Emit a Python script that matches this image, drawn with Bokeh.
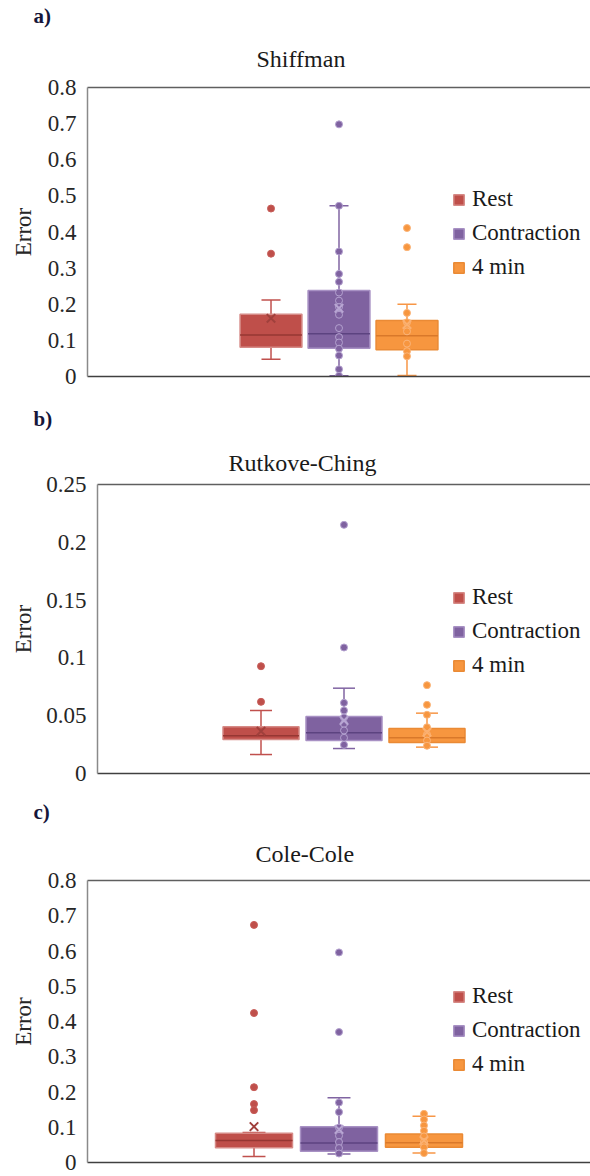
from bokeh.plotting import figure
from bokeh.models import (Range1d, LinearAxis, FixedTicker, Title, Legend, LegendItem,
                          CustomJSTickFormatter, ColumnDataSource)
from bokeh.embed import file_html
from bokeh.resources import INLINE

# ---------------- data ----------------
SERIES = ["Rest", "Contraction", "4 min"]
POSITIONS = [-1, 0, 1]

# a) Shiffman   (order: Rest, Contraction, 4 min)
shiffman_q1 = [0.081, 0.078, 0.074]
shiffman_median = [0.115, 0.118, 0.1125]
shiffman_q3 = [0.172, 0.238, 0.155]
shiffman_whisker_low = [0.048, 0.002, 0.003]
shiffman_whisker_high = [0.212, 0.4725, 0.200]
shiffman_mean = [0.161, 0.189, 0.144]
shiffman_rest_points = [0.465, 0.340]
shiffman_contraction_points = [0.698, 0.4725, 0.346, 0.284, 0.262, 0.2325, 0.210, 0.192,
                               0.171, 0.134, 0.109, 0.094, 0.077, 0.058, 0.020, 0.002]
shiffman_4min_points = [0.411, 0.358, 0.176, 0.150, 0.125, 0.091, 0.070, 0.056]
shiffman_ticks = [0, 0.1, 0.2, 0.3, 0.4, 0.5, 0.6, 0.7, 0.8]

# b) Rutkove-Ching
rutkove_q1 = [0.0294, 0.0285, 0.0268]
rutkove_median = [0.0326, 0.0352, 0.0309]
rutkove_q3 = [0.0404, 0.0493, 0.0389]
rutkove_whisker_low = [0.0164, 0.0216, 0.0228]
rutkove_whisker_high = [0.0545, 0.0738, 0.0522]
rutkove_mean = [0.0366, 0.0458, 0.0357]
rutkove_rest_points = [0.0928, 0.062]
rutkove_contraction_points = [0.2151, 0.109, 0.0611, 0.0545, 0.0484, 0.043, 0.0372, 0.0309, 0.0248]
rutkove_4min_points = [0.0764, 0.0594, 0.0508, 0.040, 0.0337, 0.0285, 0.024]
rutkove_ticks = [0, 0.05, 0.1, 0.15, 0.2, 0.25]

# c) Cole-Cole
cole_q1 = [0.042, 0.032, 0.043]
cole_median = [0.0624, 0.055, 0.0558]
cole_q3 = [0.0833, 0.1017, 0.0806]
cole_whisker_low = [0.0173, 0.024, 0.0267]
cole_whisker_high = [0.085, 0.184, 0.131]
cole_mean = [0.1017, 0.094, 0.0624]
cole_rest_points = [0.674, 0.424, 0.2136, 0.1658, 0.1485]
cole_contraction_points = [0.596, 0.370, 0.170, 0.143, 0.099, 0.076, 0.058, 0.041, 0.0256]
cole_4min_points = [0.138, 0.122, 0.105, 0.090, 0.074, 0.058, 0.043, 0.0267]
cole_ticks = [0, 0.1, 0.2, 0.3, 0.4, 0.5, 0.6, 0.7, 0.8]

# ---------------- styles ----------------
FILL = ["#bf4f4a", "#7f62a0", "#f7963f"]
BOX_LINE = ["#d68a86", "#a891c4", "#ea8a35"]
MEDIAN = ["#963733", "#5c4380", "#d9782a"]
WHISKER = ["#c0504d", "#8064a2", "#f79646"]
POINT_EDGE = ["#c75e5a", "#b3a1cf", "#fbb57a"]
MEAN_C = ["#a0403c", "#b8a6d3", "#fbb070"]
SERIF = "Liberation Serif"

panels = [
    dict(letter="a)", title="Shiffman",
         stats=(shiffman_q1, shiffman_median, shiffman_q3, shiffman_whisker_low,
                shiffman_whisker_high, shiffman_mean),
         points=(shiffman_rest_points, shiffman_contraction_points, shiffman_4min_points),
         ticks=shiffman_ticks,
         h=397, top=87, bottom=21, left=87, xr=(-3.699, 3.699), bw=0.91, cw=0.28,
         label_standoff=9,
         letter_off=-54, letter_standoff=0, title_off=169, title_standoff=32,
         legend_xy=(365, 96)),
    dict(letter="b)", title="Rutkove-Ching",
         stats=(rutkove_q1, rutkove_median, rutkove_q3, rutkove_whisker_low,
                rutkove_whisker_high, rutkove_mean),
         points=(rutkove_rest_points, rutkove_contraction_points, rutkove_4min_points),
         ticks=rutkove_ticks,
         h=397, top=87, bottom=21, left=97, xr=(-2.970, 2.970), bw=0.916, cw=0.265,
         label_standoff=7,
         letter_off=-64, letter_standoff=15, title_off=131, title_standoff=18,
         legend_xy=(355, 95)),
    dict(letter="c)", title="Cole-Cole",
         stats=(cole_q1, cole_median, cole_q3, cole_whisker_low, cole_whisker_high, cole_mean),
         points=(cole_rest_points, cole_contraction_points, cole_4min_points),
         ticks=cole_ticks,
         h=382, top=86, bottom=14, left=87, xr=(-2.959, 2.959), bw=0.906, cw=0.27,
         label_standoff=9,
         letter_off=-54, letter_standoff=4, title_off=168, title_standoff=27,
         legend_xy=(365, 85)),
]


def no_tick_axis(ax, color, width):
    ax.ticker = FixedTicker(ticks=[])
    ax.major_tick_line_color = None
    ax.minor_tick_line_color = None
    ax.major_tick_out = 0
    ax.minor_tick_out = 0
    ax.major_label_standoff = 0
    ax.major_label_text_font_size = "0px"
    ax.axis_line_color = color
    ax.axis_line_width = width


def build(cfg):
    q1, med, q3, wlo, whi, mean = cfg["stats"]
    ticks = cfg["ticks"]
    bw, cw = cfg["bw"], cfg["cw"]
    p = figure(width=590, height=cfg["h"], x_range=Range1d(*cfg["xr"]),
               y_range=Range1d(ticks[0], ticks[-1]), output_backend="svg",
               toolbar_location=None, title_location=None,
               min_border_left=cfg["left"], min_border_right=0,
               min_border_top=cfg["top"], min_border_bottom=cfg["bottom"])
    p.grid.visible = False
    p.outline_line_color = None
    p.background_fill_color = "white"
    p.border_fill_color = "white"

    no_tick_axis(p.xaxis[0], "#404040", 1.5)
    top_axis = LinearAxis()
    no_tick_axis(top_axis, "#5f5f5f", 1.5)
    p.add_layout(top_axis, "above")

    p.add_layout(Title(text=cfg["title"], align="left", offset=cfg["title_off"],
                       standoff=cfg["title_standoff"], text_font=SERIF,
                       text_font_size="24px", text_font_style="normal",
                       text_color="#1a1a1a"), "above")
    p.add_layout(Title(text=cfg["letter"], align="left", offset=cfg["letter_off"],
                       standoff=cfg["letter_standoff"], text_font=SERIF,
                       text_font_size="21px", text_font_style="bold",
                       text_color="#16163a"), "above")

    ya = p.yaxis[0]
    ya.ticker = FixedTicker(ticks=ticks)
    ya.formatter = CustomJSTickFormatter(code=r"return tick.toFixed(2).replace(/\.?0+$/, '');")
    ya.major_tick_line_color = None
    ya.minor_tick_line_color = None
    ya.major_tick_out = 0
    ya.minor_tick_out = 0
    ya.major_label_standoff = 11
    ya.major_label_text_font = SERIF
    ya.major_label_text_font_size = "23px"
    ya.major_label_text_color = "#262626"
    ya.axis_line_color = "#8a8a8a"
    ya.axis_line_width = 1.5
    ya.axis_label = "Error"
    ya.axis_label_text_font = SERIF
    ya.axis_label_text_font_size = "23px"
    ya.axis_label_text_font_style = "normal"
    ya.axis_label_text_color = "#262626"
    ya.axis_label_standoff = cfg["label_standoff"]

    src = ColumnDataSource(dict(
        x=POSITIONS, q1=q1, med=med, q3=q3, wlo=wlo, whi=whi, mean=mean,
        x0=[x - bw / 2 for x in POSITIONS], x1=[x + bw / 2 for x in POSITIONS],
        c0=[x - cw / 2 for x in POSITIONS], c1=[x + cw / 2 for x in POSITIONS],
        fill=FILL, bline=BOX_LINE, medc=MEDIAN, wc=WHISKER, mc=MEAN_C))

    p.segment(x0="x", y0="wlo", x1="x", y1="q1", line_color="wc", line_width=1.5, source=src)
    p.segment(x0="x", y0="q3", x1="x", y1="whi", line_color="wc", line_width=1.5, source=src)
    p.segment(x0="c0", y0="wlo", x1="c1", y1="wlo", line_color="wc", line_width=1.5, source=src)
    p.segment(x0="c0", y0="whi", x1="c1", y1="whi", line_color="wc", line_width=1.5, source=src)
    box = p.vbar(x="x", width=bw, bottom="q1", top="q3", fill_color="fill",
                 line_color="bline", line_width=1.5, source=src)
    p.segment(x0="x0", y0="med", x1="x1", y1="med", line_color="medc", line_width=1.5, source=src)

    for i, pts in enumerate(cfg["points"]):
        p.scatter(x=[POSITIONS[i]] * len(pts), y=pts, marker="circle", size=7,
                  fill_color=FILL[i], line_color=POINT_EDGE[i], line_width=1)

    p.scatter(x="x", y="mean", marker="x", size=12, line_color="mc", line_width=2, source=src)

    legend = Legend(items=[LegendItem(label=s, renderers=[box], index=i)
                           for i, s in enumerate(SERIES)],
                    location=cfg["legend_xy"], orientation="vertical",
                    glyph_width=13, glyph_height=13, label_height=24, spacing=8,
                    label_standoff=7, padding=0, margin=0,
                    border_line_color=None, background_fill_alpha=0,
                    label_text_font=SERIF, label_text_font_size="23px",
                    label_text_color="#1a1a1a")
    p.add_layout(legend)
    return p


figs = [build(c) for c in panels]

with open("out.html", "w") as f:
    f.write(file_html(figs, INLINE))
